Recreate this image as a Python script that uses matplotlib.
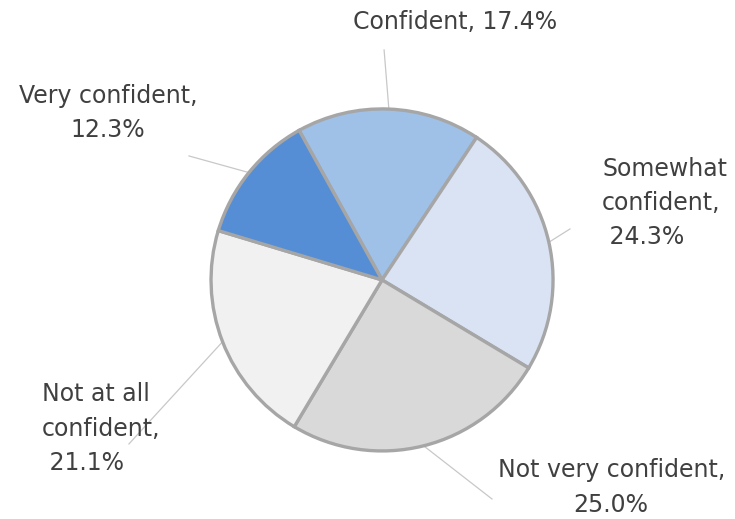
import numpy as np
import matplotlib
matplotlib.use('Agg')
import matplotlib.pyplot as plt

# data
categories = ['Confident', 'Somewhat confident', 'Not very confident',
              'Not at all confident', 'Very confident']
shares = [17.4, 24.3, 25.0, 21.1, 12.3]
wrapped_names = ['Confident', 'Somewhat\nconfident', 'Not very confident',
                 'Not at all\nconfident', 'Very confident']
value_sep = [' ', '\n', '\n', '\n', '\n']

colors = ['#9FC0E7', '#DAE3F3', '#D9D9D9', '#F1F1F1', '#558ED5']

# label layout (pie radius = 1)
leader_end = [(0.012, 1.345), (1.099, 0.298), (0.643, -1.281),
              (-1.480, -0.959), (-1.129, 0.725)]
text_pos = [(0.427, 1.509), (1.287, 0.450), (1.34, -1.215),
            (-1.988, -0.871), (-1.602, 0.977)]
text_align = ['center', 'left', 'center', 'left', 'center']
text_color = '#404040'

fig = plt.figure(figsize=(7.35, 5.19), dpi=100)
ax = fig.add_axes([0, 0, 1, 1])

wedges, _ = ax.pie(shares, colors=colors, startangle=119, counterclock=False,
                   radius=1,
                   wedgeprops=dict(edgecolor='#A6A6A6', linewidth=2.4))

for i, w in enumerate(wedges):
    mid = np.deg2rad((w.theta1 + w.theta2) / 2)
    x0, y0 = np.cos(mid), np.sin(mid)
    ex, ey = leader_end[i]
    ax.plot([x0, ex], [y0, ey], color='#C8C8C8', lw=0.9, zorder=0)

    val = f"{shares[i]:.1f}%"
    txt = f"{wrapped_names[i]},{value_sep[i]}{val}"
    if text_align[i] == 'left':
        txt = txt.replace('\n' + val, '\n ' + val)
    tx, ty = text_pos[i]
    ax.text(tx, ty, txt, ha=text_align[i], va='center',
            multialignment=text_align[i],
            fontsize=17, color=text_color, linespacing=1.55,
            family='DejaVu Sans')

ax.set_xlim(-2.234, 2.064)
ax.set_ylim(-1.398, 1.637)
ax.axis('off')

plt.savefig('out.png', dpi=100)
